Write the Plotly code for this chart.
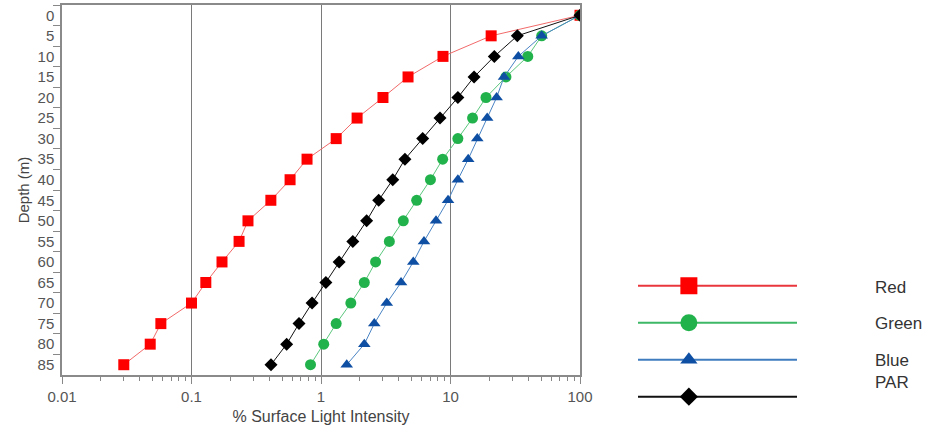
import plotly.graph_objects as go

depths = ["0", "5", "10", "15", "20", "25", "30", "35", "40", "45",
          "50", "55", "60", "65", "70", "75", "80", "85"]

red = [100, 20.6, 8.75, 4.7, 3.01, 1.90, 1.31, 0.78, 0.577, 0.41,
       0.273, 0.233, 0.172, 0.129, 0.10, 0.058, 0.048, 0.030]
green = [100, 50.6, 39.5, 26.8, 18.8, 14.8, 11.4, 8.7, 7.0, 5.48,
         4.32, 3.37, 2.64, 2.16, 1.70, 1.31, 1.05, 0.83]
blue = [100, 50.6, 33.4, 25.9, 22.7, 19.2, 16.1, 13.7, 11.4, 9.57,
        7.73, 6.24, 5.16, 4.15, 3.22, 2.58, 2.16, 1.58]
par = [100, 32.8, 21.8, 15.2, 11.4, 8.3, 6.1, 4.45, 3.58, 2.79,
       2.25, 1.76, 1.38, 1.09, 0.853, 0.676, 0.543, 0.411]

series_names = ["Red", "Green", "Blue", "PAR"]
series_values = [red, green, blue, par]
line_colors = ["#F26A6A", "#5CC77E", "#4A84C4", "#111111"]
marker_colors = ["#FF0000", "#22B24C", "#0E4FA3", "#000000"]
legend_line_colors = ["#E8363C", "#3DB866", "#3F7CBF", "#111111"]
symbols = ["square", "circle", "triangle-up", "diamond"]
marker_sizes = [11, 11, 11, 10]
legend_marker_sizes = [17, 17, 15, 14]

x_tick_vals = [0.01, 0.1, 1, 10, 100]
x_tick_text = ["0.01", "0.1", "1", "10", "100"]

W, H = 932, 433
ML, MR, MT, MB = 62, 2, 5, 5
PW, PH = W - ML - MR, H - MT - MB

def px_x(p):
    return (p - ML) / PW

def px_y(p):
    return (H - MB - p) / PH

font_family = "Liberation Sans, Arial, sans-serif"
tick_color = "#555555"

fig = go.Figure()

for name, vals, lc, mc, sym, ms in zip(series_names, series_values, line_colors,
                                      marker_colors, symbols, marker_sizes):
    fig.add_trace(go.Scatter(
        x=vals, y=depths, mode="lines+markers", name=name,
        line=dict(color=lc, width=1),
        marker=dict(symbol=sym, size=ms, color=mc, line=dict(width=0)),
        showlegend=False, xaxis="x", yaxis="y",
    ))

# custom legend drawn in its own small axes
legend_rows = [3, 2, 1, 0]
for name, row, lc, mc, sym, ms in zip(series_names, legend_rows, legend_line_colors,
                                      marker_colors, symbols, legend_marker_sizes):
    fig.add_trace(go.Scatter(
        x=[0, 1], y=[row, row], mode="lines",
        line=dict(color=lc, width=2), showlegend=False,
        xaxis="x2", yaxis="y2", hoverinfo="skip",
    ))
    fig.add_trace(go.Scatter(
        x=[0.32], y=[row], mode="markers",
        marker=dict(symbol=sym, size=ms, color=mc, line=dict(width=0)),
        showlegend=False, xaxis="x2", yaxis="y2", hoverinfo="skip",
    ))

label_y_px = [287, 323, 360, 382]
for name, ypx in zip(series_names, label_y_px):
    fig.add_annotation(
        x=px_x(873), y=px_y(ypx), xref="paper", yref="paper",
        text=name, showarrow=False, xanchor="left", yanchor="middle",
        font=dict(family=font_family, size=17, color="#333333"),
    )

fig.update_layout(
    width=W, height=H,
    margin=dict(l=ML, r=MR, t=MT, b=MB, autoexpand=False),
    paper_bgcolor="white", plot_bgcolor="white",
    font=dict(family=font_family, size=15, color=tick_color),
    xaxis=dict(
        type="log", range=[-2, 2],
        domain=[0, px_x(580)], automargin=False,
        tickmode="array", tickvals=x_tick_vals, ticktext=x_tick_text,
        ticks="outside", ticklen=7, tickcolor="#888888", tickwidth=1,
        showgrid=True, gridcolor="#7a7a7a", gridwidth=1,
        showline=True, linecolor="#8a8a8a", linewidth=1.5, mirror=True,
        zeroline=False,
        tickfont=dict(size=15, color=tick_color),
        minor=dict(
            tickmode="array",
            tickvals=[k * 10 ** e for e in range(-2, 2) for k in range(2, 10)],
            ticks="outside", ticklen=4, tickcolor="#888888", showgrid=False,
        ),
        title=dict(text="% Surface Light Intensity", standoff=7,
                   font=dict(size=16, color="#444444")),
        anchor="y",
    ),
    yaxis=dict(
        type="category", categoryorder="array", categoryarray=depths,
        range=[len(depths) - 0.5, -0.5],
        domain=[px_y(375), 1], automargin=False,
        tickson="boundaries",
        ticks="outside", ticklen=7, tickcolor="#888888", tickwidth=1,
        ticklabelstandoff=3,
        showgrid=False, showline=True, linecolor="#8a8a8a", linewidth=1.5,
        mirror=True, zeroline=False,
        tickfont=dict(size=15, color=tick_color),
        title=dict(text="Depth (m)", standoff=4,
                   font=dict(size=15, color="#444444")),
        anchor="x",
    ),
    xaxis2=dict(
        domain=[px_x(638), px_x(797)], range=[0, 1],
        visible=False, anchor="y2", fixedrange=True,
    ),
    yaxis2=dict(
        domain=[px_y(415.2), px_y(267.2)], range=[-0.5, 3.5],
        visible=False, anchor="x2", fixedrange=True,
    ),
)

fig.write_html(
    "out.html",
    config={"displayModeBar": False},
    post_script="document.body.style.margin='0';document.body.style.overflow='hidden';",
)
